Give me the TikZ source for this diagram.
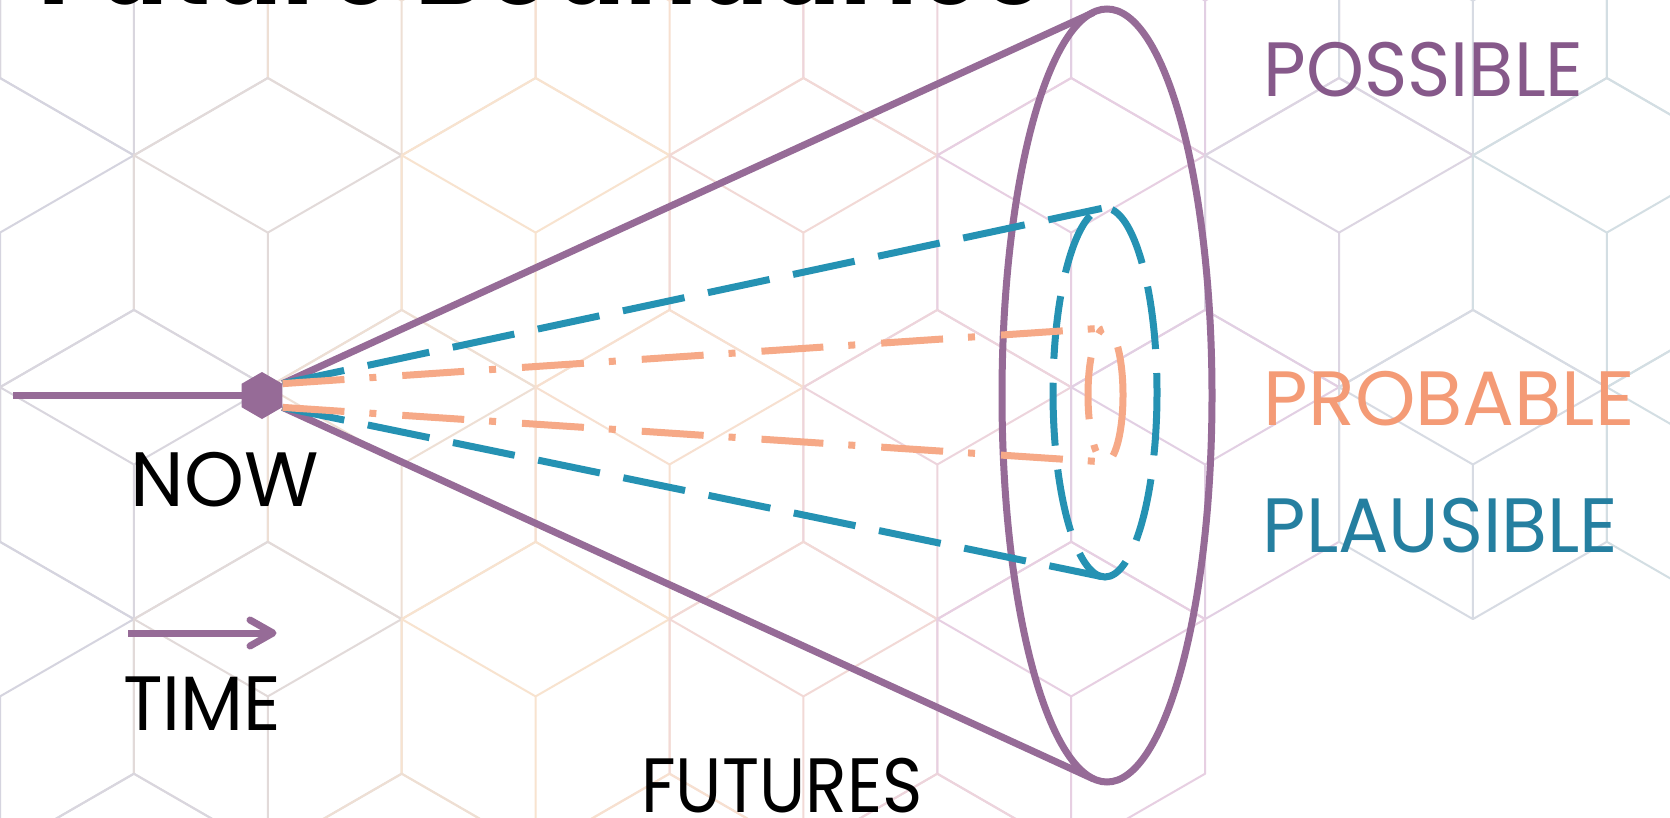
\documentclass[tikz,border=0pt]{standalone}
\usepackage{fontspec}
\setmainfont{Poppins}
\newfontfamily\labfont{Poppins}
\newfontfamily\titfont{Poppins}
\usetikzlibrary{shapes.geometric}
\pgfdeclarelayer{back}
\pgfdeclarelayer{lines}
\pgfsetlayers{back,lines,main}
\definecolor{cpurple}{HTML}{966B97}
\definecolor{cpurpletext}{HTML}{86598A}
\definecolor{cteal}{HTML}{2592B3}
\definecolor{ctealtext}{HTML}{257FA0}
\definecolor{csalmon}{HTML}{F6A987}
\definecolor{csalmontext}{HTML}{F49B76}
\definecolor{bg0}{HTML}{D3D3DF}
\definecolor{bg1}{HTML}{D5D4DF}
\definecolor{bg2}{HTML}{D9D6DE}
\definecolor{bg3}{HTML}{E2DAD9}
\definecolor{bg4}{HTML}{EEDFD4}
\definecolor{bg5}{HTML}{F8E3CF}
\definecolor{bg6}{HTML}{F7E0D0}
\definecolor{bg7}{HTML}{F2D9D6}
\definecolor{bg8}{HTML}{EDD4DC}
\definecolor{bg9}{HTML}{E7CFE2}
\definecolor{bg10}{HTML}{E2CFE3}
\definecolor{bg11}{HTML}{DCD5E2}
\definecolor{bg12}{HTML}{D7DBE3}
\definecolor{bg13}{HTML}{D3DEE3}
\definecolor{bg14}{HTML}{D3DEE3}
\begin{document}
\begin{tikzpicture}[x=1pt,y=-1pt,
  bgline/.style={line width=2pt,line join=round},
  possline/.style={draw=cpurple,line width=7pt},
  plausline/.style={draw=cteal,line width=7pt,dash pattern=on 63pt off 24pt},
  probline/.style={draw=csalmon,line width=7pt,dash pattern=on 62pt off 25pt on 7pt off 26pt},
  lbl/.style={inner sep=0pt,anchor=base west,font=\labfont\fontsize{77}{80}\selectfont},
  hexmark/.style={regular polygon,regular polygon sides=6,shape border rotate=30,
    fill=cpurple,draw=none,minimum size=47pt,inner sep=0pt},
]
\useasboundingbox (0,0) rectangle (1670,818);
\clip (0,0) rectangle (1670,818);
\begin{pgfonlayer}{back}
\fill[white] (0,0) rectangle (1670,818);
\def\w{133.9}\def\h{77.3}
\foreach \b in {-1,...,3}{
  \foreach \a in {-3,...,7}{
    \pgfmathtruncatemacro\n{2+2*\a+\b}
    \pgfmathtruncatemacro\m{\n+1}
    \pgfmathtruncatemacro\skipit{or(and(\b==2,\n>9),and(\b==3,\n>8))}
    \ifnum\skipit=0 \ifnum\m>-1 \ifnum\m<15
      \pgfmathsetmacro\tx{\w*\n}
      \pgfmathsetmacro\ty{78+3*\h*\b}
      \draw[bgline,color=bg\m] (\tx,\ty) -- ++(\w,\h) -- ++(0,2*\h) -- ++(-\w,\h) -- ++(-\w,-\h) -- ++(0,-2*\h) -- cycle
        (\tx-\w,\ty+\h) -- (\tx,\ty+2*\h) -- (\tx+\w,\ty+\h)
        (\tx,\ty+2*\h) -- (\tx,\ty+4*\h);
    \fi\fi\fi
  }
}
\end{pgfonlayer}

% title (cut off at the top)
\node[inner sep=0pt,anchor=base west,font=\titfont\bfseries\fontsize{120}{120}\selectfont] (title) at (38,5) {\scalebox{0.885}[1]{Future Boundaries}};

% now marker
\node[hexmark] (now) at (262,395.5) {};
\coordinate (nowStart) at (13,395.5);

% ellipse centres and tangent points
\coordinate (possC) at (1107,395.5);
\coordinate (possTop) at (1093.6,12.5);
\coordinate (possBot) at (1093.6,779);
\coordinate (plauC) at (1105,392.5);
\coordinate (plauTop) at (1101.7,208.4);
\coordinate (plauBot) at (1101.7,576.6);
\coordinate (probC) at (1105.5,395);
\coordinate (probTop) at (1105.1,328);
\coordinate (probBot) at (1105.1,462);

\begin{pgfonlayer}{lines}
\draw[possline] (nowStart) -- (now.center);
\draw[possline] (now.30) -- (possTop);
\draw[possline] (now.-30) -- (possBot);
\draw[possline] (possC) ellipse [x radius=105,y radius=386.5];
\draw[plausline] (now.30) -- (plauTop);
\draw[plausline] (now.-30) -- (plauBot);
\draw[plausline] (plauC) ellipse [x radius=52,y radius=184.5];
\draw[probline] (now.30) -- (probTop);
\draw[probline] (now.-30) -- (probBot);
\draw[probline] (probC) ellipse [x radius=17.5,y radius=67];
\end{pgfonlayer}

% time arrow
\coordinate (timeA) at (128,633);
\coordinate (timeB) at (273,633);
\draw[possline] (timeA) -- (timeB);
\draw[possline,line cap=round,line join=round] (timeB) ++(-23,-13) -- (timeB) -- ++(-23,13);

% labels
\node[lbl,text=cpurpletext] (possible) at (1263.5,97) {\scalebox{0.957}[1]{POSSIBLE}};
\node[lbl,text=csalmontext] (probable) at (1263.5,425) {\scalebox{1.0}[1]{PROBABLE}};
\node[lbl,text=ctealtext] (plausible) at (1262.5,552) {\scalebox{0.972}[1]{PLAUSIBLE}};
\node[lbl,text=black] (nowlbl) at (130.5,506) {\scalebox{0.99}[1]{NOW}};
\node[lbl,text=black] (timelbl) at (123,730) {\scalebox{0.95}[1]{TIME}};
\node[lbl,text=black] (futures) at (641,812) {\scalebox{0.89}[1]{FUTURES}};
\end{tikzpicture}
\end{document}
